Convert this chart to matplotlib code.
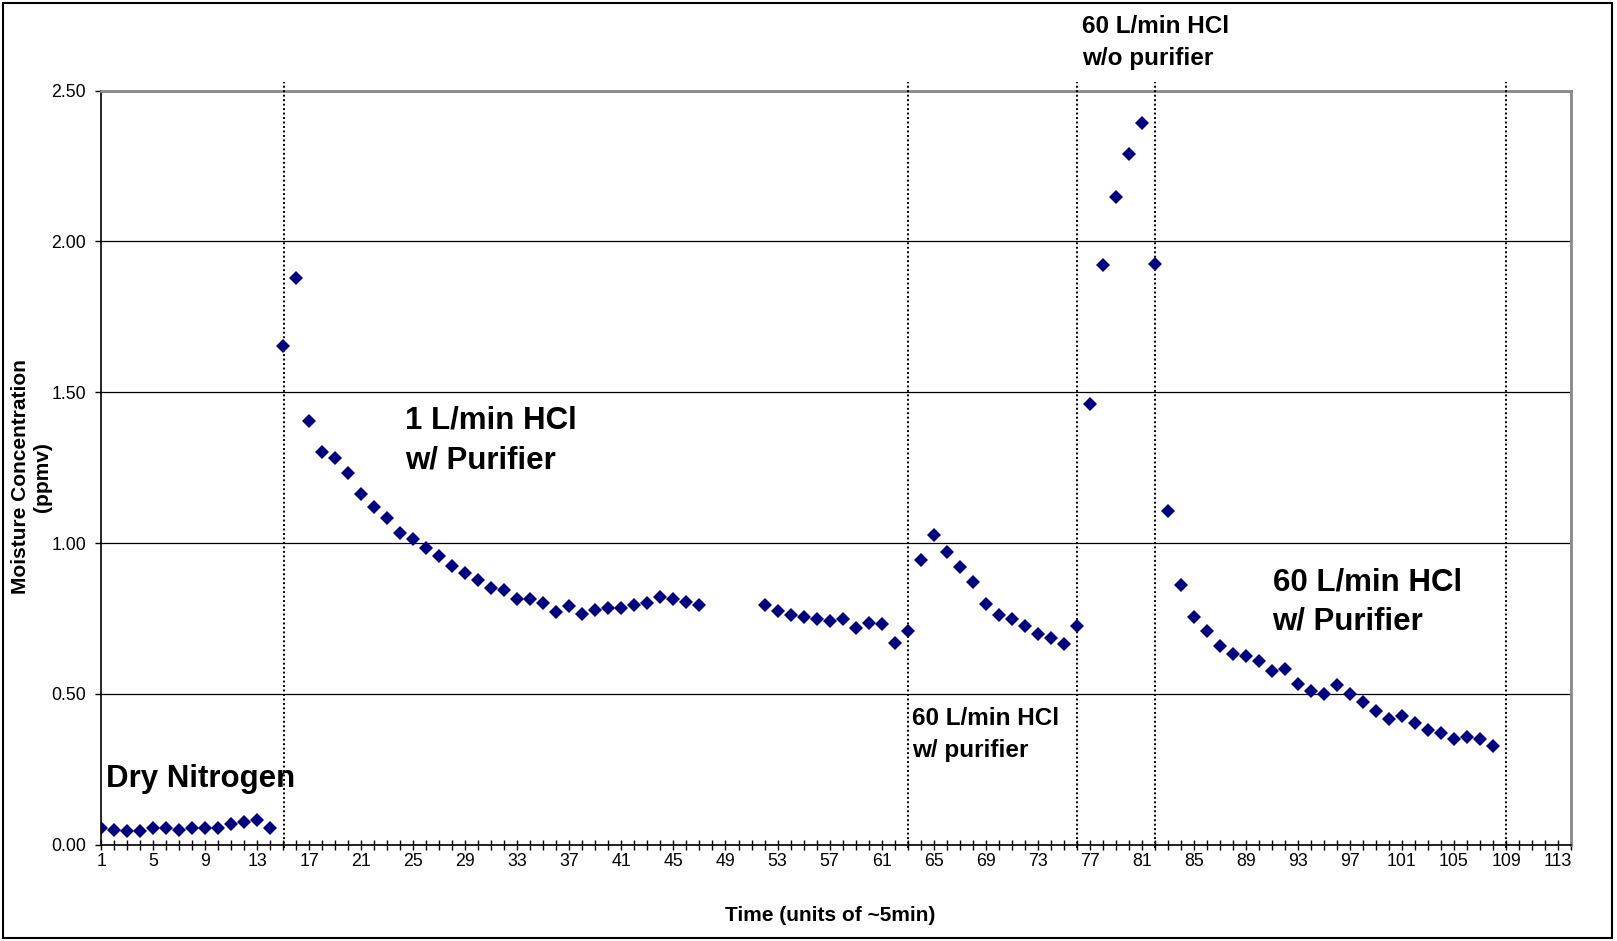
import numpy as np
import matplotlib.pyplot as plt
from matplotlib.patches import Rectangle
from matplotlib.ticker import FixedLocator, FuncFormatter

plt.rcParams['font.family'] = ['Liberation Sans', 'DejaVu Sans']

# Moisture readings (ppmv), time in units of ~5 min; 48-51 were not logged
time_a = list(range(1, 48))
moisture_a = [0.055, 0.050, 0.044, 0.044, 0.055, 0.055, 0.048, 0.055, 0.055, 0.055,
              0.068, 0.075, 0.082, 0.055,
              1.655, 1.880, 1.406, 1.302, 1.281, 1.231, 1.162, 1.120, 1.082, 1.032,
              1.013, 0.982, 0.956, 0.925, 0.901, 0.876, 0.850, 0.845, 0.815, 0.815,
              0.800, 0.771, 0.790, 0.765, 0.779, 0.784, 0.784, 0.795, 0.800, 0.822,
              0.815, 0.803, 0.794]
time_b = list(range(52, 109))
moisture_b = [0.794, 0.774, 0.760, 0.756, 0.749, 0.742, 0.749, 0.717, 0.736, 0.730,
              0.667, 0.709, 0.944, 1.028, 0.970, 0.920, 0.870, 0.799, 0.761, 0.749,
              0.725, 0.699, 0.686, 0.666, 0.725,
              1.460, 1.922, 2.147, 2.290, 2.393, 1.926, 1.105, 0.861, 0.754, 0.709,
              0.659, 0.632, 0.626, 0.609, 0.575, 0.584, 0.534, 0.511, 0.500, 0.528,
              0.500, 0.474, 0.442, 0.418, 0.425, 0.405, 0.379, 0.371, 0.349, 0.357,
              0.349, 0.327]

# times where the gas condition changed
switch_times = [15.1, 63, 76, 82, 109]

times = time_a + time_b
moisture = moisture_a + moisture_b

fig = plt.figure(figsize=(16.17, 9.41), dpi=100)
ax = fig.add_axes([0.0625, 0.1024, 0.9091, 0.8012])

ax.plot(times, moisture, 'D', ms=6.8, mew=0, color='#000080', zorder=4)

ax.vlines(switch_times, -0.01, 2.53, colors='black', linestyles=(0, (1, 1.3)),
          lw=1.4, clip_on=False, zorder=3)

ax.set_xlim(1, 114)
ax.set_ylim(0, 2.5)

# category style x axis: a tick for every unit, a label every 4
ax.xaxis.set_major_locator(FixedLocator(range(1, 115)))
ax.xaxis.set_major_formatter(FuncFormatter(lambda v, p: f"{int(v)}" if (int(v) - 1) % 4 == 0 else ""))
ax.set_yticks(np.arange(0, 2.51, 0.5))
ax.yaxis.set_major_formatter(FuncFormatter(lambda v, p: f"{v:.2f}"))
ax.tick_params(axis='x', direction='inout', length=7, width=1, labelsize=12.8, pad=2.5)
ax.tick_params(axis='y', direction='out', length=4.3, width=1, labelsize=12.8, pad=6.5)

ax.yaxis.grid(True, color='black', lw=0.9)
ax.set_axisbelow(True)
for side in ['top', 'right']:
    ax.spines[side].set_color('#888888')
    ax.spines[side].set_linewidth(2)
for side in ['left', 'bottom']:
    ax.spines[side].set_color('black')
    ax.spines[side].set_linewidth(1.2)

ax.set_xlabel('Time (units of ~5min)', fontsize=15, fontweight='bold', va='baseline')
ax.xaxis.set_label_coords(0.496, -0.101)
ax.text(-0.0476, 0.488, 'Moisture Concentration\n(ppmv)', transform=ax.transAxes,
        rotation=90, ha='center', va='center', multialignment='center',
        fontsize=15, fontweight='bold')

# condition labels, one text per line
big = dict(fontsize=22.5, fontweight='bold', va='baseline', ha='left')
small = dict(fontsize=17.5, fontweight='bold', va='baseline', ha='left')
ax.text(1.38, 0.191, 'Dry Nitrogen', **big)
ax.text(24.4, 1.380, '1 L/min HCl', **big)
ax.text(24.4, 1.248, 'w/ Purifier', **big)
ax.text(63.36, 0.397, '60 L/min HCl', **small)
ax.text(63.36, 0.290, 'w/ purifier', **small)
ax.text(76.44, 2.690, '60 L/min HCl', **small)
ax.text(76.44, 2.585, 'w/o purifier', **small)
ax.text(91.05, 0.844, '60 L/min HCl', **big)
ax.text(91.05, 0.712, 'w/ Purifier', **big)

# chart area border
fig.patches.append(Rectangle((3 / 1617, 3 / 941), 1609 / 1617, 935 / 941,
                             transform=fig.transFigure, fill=False,
                             edgecolor='black', lw=1.5))

fig.savefig('out.png', dpi=100)
